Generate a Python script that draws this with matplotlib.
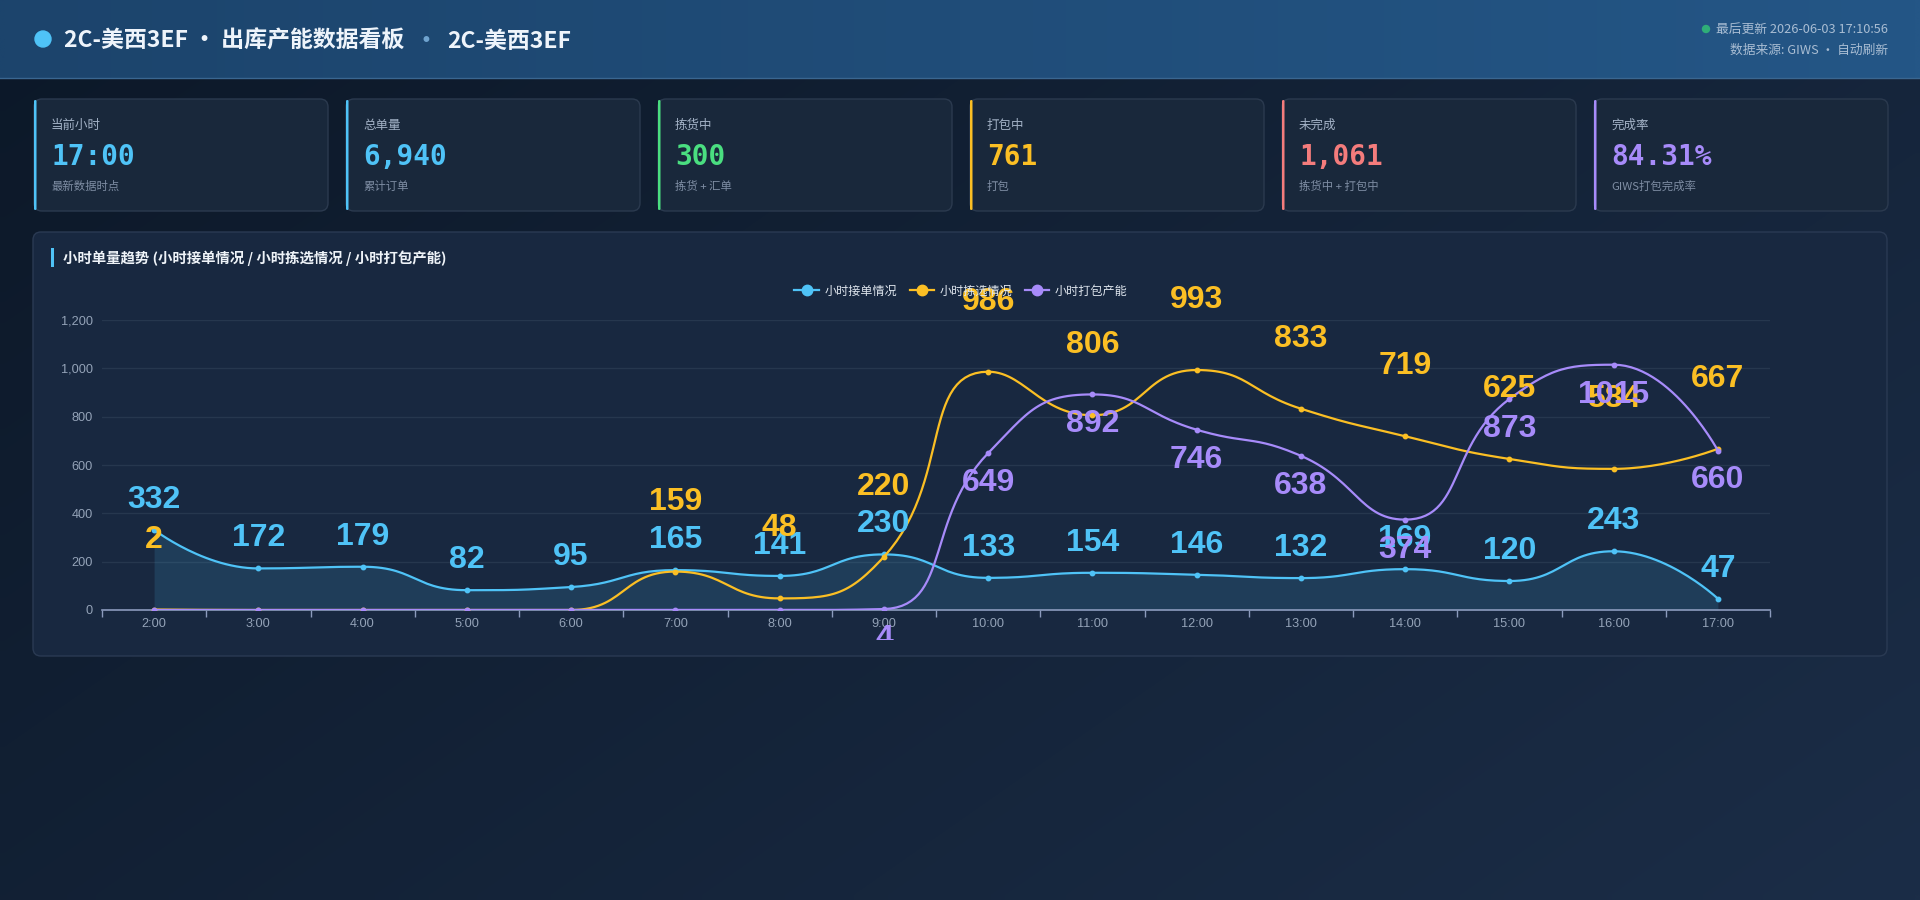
import numpy as np
import matplotlib
matplotlib.use('Agg')
import matplotlib.pyplot as plt
from matplotlib.patches import FancyBboxPatch, Circle, Rectangle
from matplotlib.lines import Line2D
from matplotlib.transforms import Bbox, TransformedBbox, ScaledTranslation
from matplotlib.ticker import FuncFormatter, MultipleLocator

CJK = ['Noto Sans CJK SC', 'DejaVu Sans']
LAT = ['Liberation Sans', 'Noto Sans CJK SC', 'DejaVu Sans']
plt.rcParams['font.family'] = LAT

# ---- data ----
hours = ['2:00', '3:00', '4:00', '5:00', '6:00', '7:00', '8:00', '9:00',
         '10:00', '11:00', '12:00', '13:00', '14:00', '15:00', '16:00', '17:00']
orders = [332, 172, 179, 82, 95, 165, 141, 230, 133, 154, 146, 132, 169, 120, 243, 47]
picked = [2, 0, 0, 0, 0, 159, 48, 220, 986, 806, 993, 833, 719, 625, 584, 667]
packed = [0, 0, 0, 0, 0, 0, 0, 4, 649, 892, 746, 638, 374, 873, 1015, 660]
series_names = ['小时接单情况', '小时拣选情况', '小时打包产能']

card_titles = ['当前小时', '总单量', '拣货中', '打包中', '未完成', '完成率']
card_values = ['17:00', '6,940', '300', '761', '1,061', '84.31%']
card_notes = ['最新数据时点', '累计订单', '拣货 + 汇单', '打包', '拣货中 + 打包中', 'GIWS打包完成率']

title_main = '2C-美西3EF · 出库产能数据看板'
title_tail = '2C-美西3EF'
update_text = '最后更新 2026-06-03 17:10:56'
source_text = '数据来源: GIWS · 自动刷新'
chart_title = '小时单量趋势 (小时接单情况 / 小时拣选情况 / 小时打包产能)'

BLUE, YELLOW, PURPLE = '#4fc3f7', '#fbbf24', '#a78bfa'
card_colors = [BLUE, BLUE, '#4ade80', YELLOW, '#f47c7c', PURPLE]
line_colors = [BLUE, YELLOW, PURPLE]
label_offsets = [30, 70, -30]   # px above (+) / below (-) the point


def hex2rgb(h):
    h = h.lstrip('#')
    return np.array([int(h[i:i + 2], 16) for i in (0, 2, 4)]) / 255.0


# echarts-like smooth bezier (done in pixel space)
def smooth_curve(vals, sx, sy, smooth=0.5, steps=30):
    px = np.arange(len(vals)) * sx
    py = np.asarray(vals, float) * sy
    n = len(px)
    xs, ys = [px[0]], [py[0]]
    cp0 = (px[0], py[0])
    t = np.linspace(0, 1, steps)[1:]
    for k in range(1, n):
        x, y = px[k], py[k]
        prx, pry = px[k - 1], py[k - 1]
        if k == n - 1:
            cp1 = (x, y)
            ncp0 = None
        else:
            nx, ny = px[k + 1], py[k + 1]
            vx, vy = nx - prx, ny - pry
            l0 = np.hypot(x - prx, y - pry)
            l1 = np.hypot(nx - x, ny - y)
            r = l1 / (l0 + l1)
            ncx, ncy = x + vx * smooth * r, y + vy * smooth * r
            ncx = max(min(ncx, max(nx, x)), min(nx, x))
            ncy = max(min(ncy, max(ny, y)), min(ny, y))
            vx, vy = ncx - x, ncy - y
            c1x, c1y = x - vx * l0 / l1, y - vy * l0 / l1
            c1x = max(min(c1x, max(prx, x)), min(prx, x))
            c1y = max(min(c1y, max(pry, y)), min(pry, y))
            vx, vy = x - c1x, y - c1y
            ncp0 = (x + vx * l1 / l0, y + vy * l1 / l0)
            cp1 = (c1x, c1y)
        bx = (1 - t) ** 3 * prx + 3 * (1 - t) ** 2 * t * cp0[0] + 3 * (1 - t) * t ** 2 * cp1[0] + t ** 3 * x
        by = (1 - t) ** 3 * pry + 3 * (1 - t) ** 2 * t * cp0[1] + 3 * (1 - t) * t ** 2 * cp1[1] + t ** 3 * y
        xs.extend(bx)
        ys.extend(by)
        cp0 = ncp0
    return np.array(xs) / sx, np.array(ys) / sy


fig = plt.figure(figsize=(19.2, 9), dpi=100)

# background layer in pixel coordinates
bg = fig.add_axes([0, 0, 1, 1], zorder=0)
bg.set_xlim(0, 1920)
bg.set_ylim(900, 0)
bg.axis('off')

c0, c1 = hex2rgb('#0c1828'), hex2rgb('#1b2d47')
gy, gx = np.mgrid[0:1:90j, 0:1:192j]
w = (gx * 0.6 + gy * 0.4)[..., None]
bg.imshow(c0 * (1 - w) + c1 * w, extent=(0, 1920, 900, 0), aspect='auto', interpolation='bilinear')

h0, h1 = hex2rgb('#1c446c'), hex2rgb('#245686')
hw = np.linspace(0, 1, 192)[None, :, None]
bg.imshow(h0 * (1 - hw) + h1 * hw, extent=(0, 1920, 78, 0), aspect='auto', interpolation='bilinear')
bg.plot([0, 1920], [78, 78], color='#3a6690', lw=1)
bg.set_xlim(0, 1920)
bg.set_ylim(900, 0)

# header
bg.add_patch(Circle((43, 39), 8, color=BLUE))
t1 = bg.text(64, 41, title_main, fontsize=16.5, fontweight='bold', color='#eef4fb',
             va='center', ha='left', family=CJK)
fig.canvas.draw()
r = fig.canvas.get_renderer()
ext = t1.get_window_extent(r)
t2 = bg.text(ext.x1 + 10, 41, '·', fontsize=16.5, fontweight='bold', color='#6fa3cf',
             va='center', ha='left', family=CJK)
ext2 = t2.get_window_extent(r)
bg.text(ext2.x1 + 10, 41, title_tail, fontsize=16.5, fontweight='bold', color='#eef4fb',
        va='center', ha='left', family=CJK)

bg.add_patch(Circle((1706, 29), 3.5, color='#2fae78'))
bg.text(1888, 29, update_text, fontsize=9.2, color='#a9bdd3', ha='right', va='center', family=CJK)
bg.text(1888, 50, source_text, fontsize=9.2, color='#a9bdd3', ha='right', va='center', family=CJK)

# cards
for i in range(len(card_titles)):
    x0 = 34 + i * 312
    bg.add_patch(FancyBboxPatch((x0, 99), 294, 112, boxstyle='round,pad=0,rounding_size=8',
                                fc='#19283b', ec='#2b3a4f', lw=1))
    bg.add_patch(FancyBboxPatch((x0, 100), 2.5, 110, boxstyle='round,pad=0,rounding_size=1.2',
                                fc=card_colors[i], ec='none'))
    bg.text(x0 + 17, 125, card_titles[i], fontsize=9, color='#a3b2c6', va='center', family=CJK)
    bg.text(x0 + 17, 157, card_values[i], fontsize=20, fontweight='bold', color=card_colors[i],
            va='center', family=['DejaVu Sans Mono'])
    bg.text(x0 + 17, 186, card_notes[i], fontsize=8.2, color='#7f8ea4', va='center', family=CJK)

# chart panel
bg.add_patch(FancyBboxPatch((33, 232), 1854, 424, boxstyle='round,pad=0,rounding_size=8',
                            fc='#182840', ec='#2a3a53', lw=1))
bg.add_patch(Rectangle((51, 248), 3, 19, fc=BLUE, ec='none'))
bg.text(63, 258, chart_title, fontsize=10.4, fontweight='bold', color='#eef3f8', va='center', family=CJK)

# chart axes
ax = fig.add_axes([102 / 1920, 290 / 900, 1668 / 1920, 290 / 900], zorder=2)
ax.patch.set_alpha(0)
ax.set_xlim(-0.5, len(hours) - 0.5)
ax.set_ylim(0, 1200)
sx = 1668 / len(hours)
sy = 290 / 1200

for sp in ['top', 'right', 'left']:
    ax.spines[sp].set_visible(False)
ax.spines['bottom'].set_color('#8c9bbd')
ax.spines['bottom'].set_linewidth(1.2)
ax.yaxis.set_major_locator(MultipleLocator(200))
ax.yaxis.set_major_formatter(FuncFormatter(lambda v, p: f'{int(v):,}'))
ax.set_xticks(range(len(hours)))
ax.set_xticklabels(hours)
ax.set_xticks(np.arange(-0.5, len(hours), 1), minor=True)
ax.tick_params(axis='x', which='major', length=0, pad=6, labelsize=9.2, labelcolor='#94a3b8')
ax.tick_params(axis='x', which='minor', length=5, width=1, color='#8c9bbd', direction='out')
ax.tick_params(axis='y', length=0, pad=6.5, labelsize=9.2, labelcolor='#94a3b8')
for yv in range(200, 1201, 200):
    ax.axhline(yv, color='#26374e', lw=1, zorder=0)

clip = TransformedBbox(Bbox([[0, 260 / 900], [1, 1]]), fig.transFigure)
all_series = [orders, picked, packed]
for k, vals in enumerate(all_series):
    cx, cy = smooth_curve(vals, sx, sy)
    if k == 0:
        ax.fill_between(cx, cy, 0, color=BLUE, alpha=0.14, lw=0, zorder=1)
    ax.plot(cx, cy, color=line_colors[k], lw=1.6, zorder=3 + k, solid_capstyle='round')
    ax.plot(range(len(vals)), vals, 'o', color=line_colors[k], ms=3.2, zorder=3 + k)

for k, vals in enumerate(all_series):
    off = ScaledTranslation(0, label_offsets[k] / 100, fig.dpi_scale_trans)
    for i, v in enumerate(vals):
        if v == 0:
            continue
        t = ax.text(i, v, str(v), transform=ax.transData + off, ha='center', va='center',
                    fontsize=23, fontweight='bold', color=line_colors[k], zorder=10 + k)
        t.set_clip_on(True)
        t.set_clip_box(clip)

handles = [Line2D([0], [0], color=c, lw=1.6, marker='o', ms=7.5) for c in line_colors]
fig.legend(handles, series_names, loc='center', bbox_to_anchor=(961 / 1920, 1 - 291 / 900),
           ncol=3, frameon=False, labelcolor='#dfe6ee', handlelength=2.0,
           handletextpad=0.5, columnspacing=1.0, prop={'family': CJK, 'size': 8.7})

fig.savefig('out.png', dpi=100)
